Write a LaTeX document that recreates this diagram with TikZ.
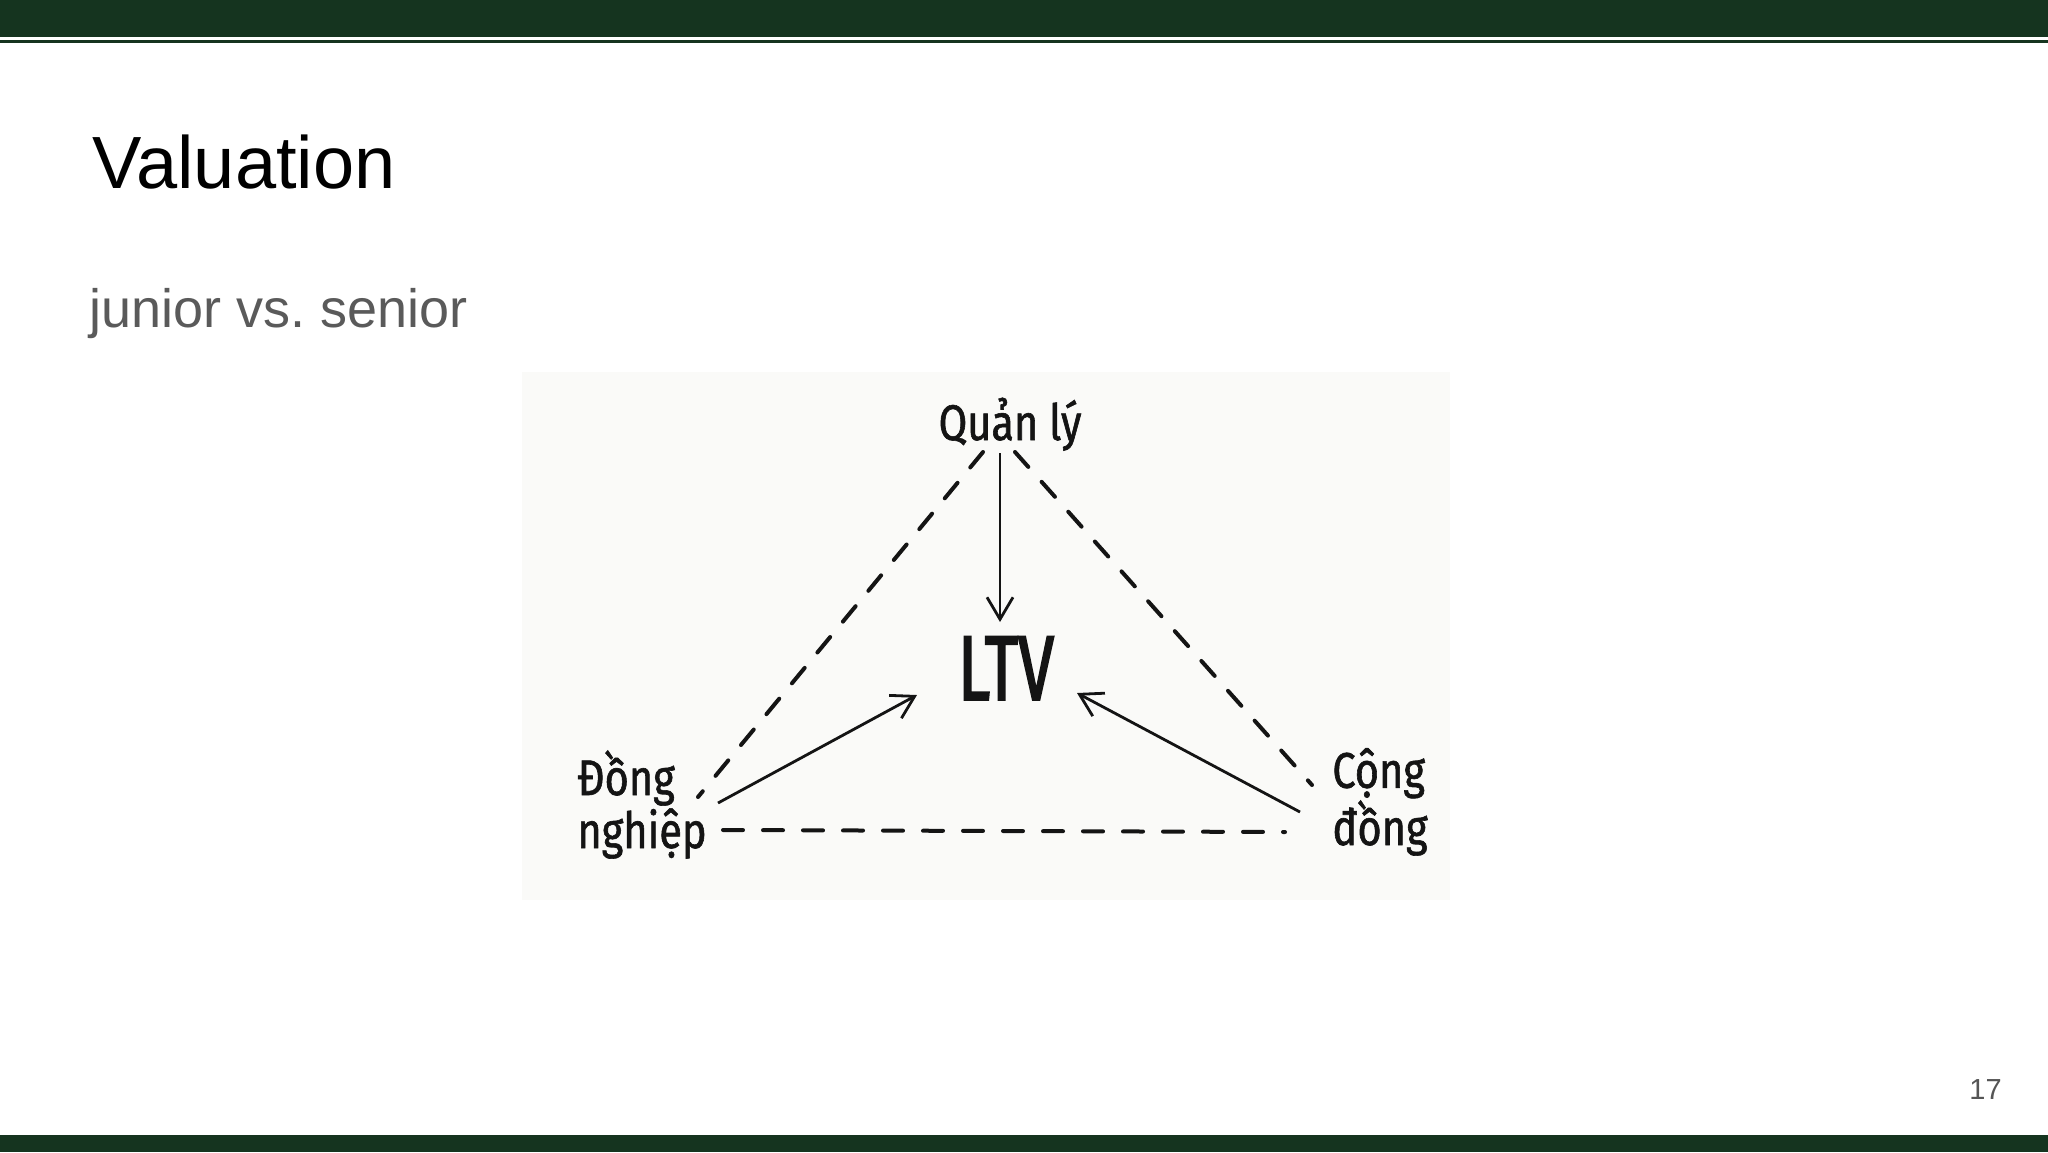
\documentclass[tikz,border=0pt]{standalone}
\usepackage{fontspec}
\setmainfont{Liberation Sans}
\newfontfamily\hand[FakeStretch=0.83,FakeBold=1.2]{Fira Sans}
\newfontfamily\handltv[FakeStretch=0.7,FakeBold=2]{Fira Sans}
\usetikzlibrary{arrows.meta,calc}
\definecolor{bargreen}{RGB}{21,52,31}
\definecolor{subgray}{RGB}{90,90,90}
\definecolor{pagegray}{RGB}{85,85,85}
\definecolor{ink}{RGB}{20,20,20}
\definecolor{imgbg}{RGB}{250,250,248}
\tikzset{
  title/.style={anchor=base west, inner sep=0pt, font=\fontsize{37pt}{44pt}\selectfont, text=black},
  subtitle/.style={anchor=base west, inner sep=0pt, font=\fontsize{27pt}{32pt}\selectfont, text=subgray},
  pagenum/.style={anchor=base east, inner sep=0pt, font=\fontsize{14.5pt}{17pt}\selectfont, text=pagegray},
  lbl/.style={inner sep=0pt, align=left, font=\hand\fontsize{25pt}{26.5pt}\selectfont, text=ink},
  ltvlbl/.style={inner sep=0pt, font=\handltv\fontsize{46pt}{50pt}\selectfont, text=ink},
  dashline/.style={draw=ink, line width=2pt, dash pattern=on 10pt off 10pt, line cap=round},
  arrowline/.style={draw=ink, line width=1.4pt, -{Straight Barb[length=11pt,width=13pt,line width=1.4pt]}}
}
\begin{document}
\begin{tikzpicture}[x=0.5pt,y=-0.5pt]
\useasboundingbox (0,0) rectangle (2048,1152);
\fill[white] (0,0) rectangle (2048,1152);
% bars
\fill[bargreen] (0,0) rectangle (2048,37);
\fill[bargreen] (0,40) rectangle (2048,43);
\fill[bargreen] (0,1135) rectangle (2048,1152);
% image background
\fill[imgbg] (522,372) rectangle (1450,900);
% texts
\node[title] (ttl) at (92,188) {Valuation};
\node[subtitle] (sub) at (89,327) {junior vs.\ senior};
\node[pagenum] (pg) at (2002,1099) {17};
% diagram nodes (base west of two-line nodes = baseline of last line)
\node[lbl, anchor=base] (ql) at (1010,440) {Quản lý};
\node[ltvlbl, anchor=base] (ltv) at (1006,700) {LTV};
\node[lbl, anchor=base west] (dn) at (577,848) {Đồng\\nghiệp};
\node[lbl, anchor=base west] (cd) at (1332,845) {Cộng\\đồng};
% dashed triangle
\draw[dashline] ($(ql.base)+(-27,12)$) -- ($(dn.base west)+(121,-51)$);
\draw[dashline] ($(ql.base)+(5,12)$) -- ($(cd.base west)+(-20,-60)$);
\draw[dashline] ($(dn.base west)+(146,-18)$) -- ($(cd.base west)+(-47,-13)$);
% arrows
\draw[arrowline] ($(ql.base)+(-10,13)$) -- ($(ltv.base)+(-6,-78)$);
\draw[arrowline] ($(dn.base west)+(141,-45)$) -- ($(ltv.base)+(-89,-5)$);
\draw[arrowline] ($(cd.base west)+(-32,-33)$) -- ($(ltv.base)+(71,-7)$);
\end{tikzpicture}
\end{document}
